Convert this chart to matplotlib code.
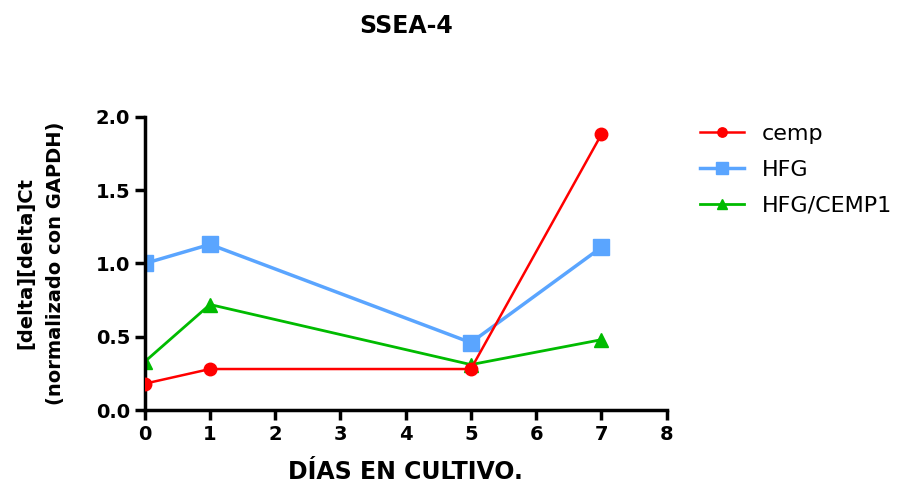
import matplotlib
matplotlib.use("Agg")
import matplotlib.pyplot as plt

days = [0, 1, 5, 7]
cemp = [0.18, 0.28, 0.28, 1.88]
hfg = [1.00, 1.13, 0.46, 1.11]
hfg_cemp1 = [0.33, 0.72, 0.31, 0.48]
series_names = ["cemp", "HFG", "HFG/CEMP1"]
xticks = [0, 1, 2, 3, 4, 5, 6, 7, 8]
yticks = [0.0, 0.5, 1.0, 1.5, 2.0]

plt.rcParams['font.family'] = ['DejaVu Sans']

fig = plt.figure(figsize=(9.22, 4.83), dpi=100)
ax = fig.add_axes([0.157, 0.151, 0.566, 0.607])

ax.plot(days, cemp, color='#ff0000', marker='o', markersize=9, lw=1.8, label=series_names[0], zorder=3)
ax.plot(days, hfg, color='#5aa5ff', marker='s', markersize=11, lw=2.5, label=series_names[1], zorder=2)
ax.plot(days, hfg_cemp1, color='#00bb00', marker='^', markersize=10, lw=2.0, label=series_names[2], zorder=2)

ax.set_xlim(0, 8)
ax.set_ylim(0, 2.0)
ax.set_xticks(xticks)
ax.set_yticks(yticks)
ax.set_yticklabels([f"{v:.1f}" for v in yticks])
for s in ['top', 'right']:
    ax.spines[s].set_visible(False)
for s in ['left', 'bottom']:
    ax.spines[s].set_linewidth(2.5)
ax.tick_params(width=2.5, length=7, labelsize=14)
for lab in ax.get_xticklabels() + ax.get_yticklabels():
    lab.set_fontweight('bold')
ax.set_xlabel("DÍAS EN CULTIVO.", fontsize=17, fontweight='bold', labelpad=12)
ax.set_ylabel("[delta][delta]Ct\n(normalizado con GAPDH)", fontsize=14, fontweight='bold', labelpad=22,
              linespacing=1.7)
fig.text(0.44, 0.946, "SSEA-4", fontsize=17, fontweight='bold', ha='center', va='center')

leg = ax.legend(loc='upper left', bbox_to_anchor=(1.025, 1.045), frameon=False, fontsize=16,
                handlelength=2.0, labelspacing=0.72, markerscale=0.75, handletextpad=0.8)

fig.savefig("out.png", dpi=100)
